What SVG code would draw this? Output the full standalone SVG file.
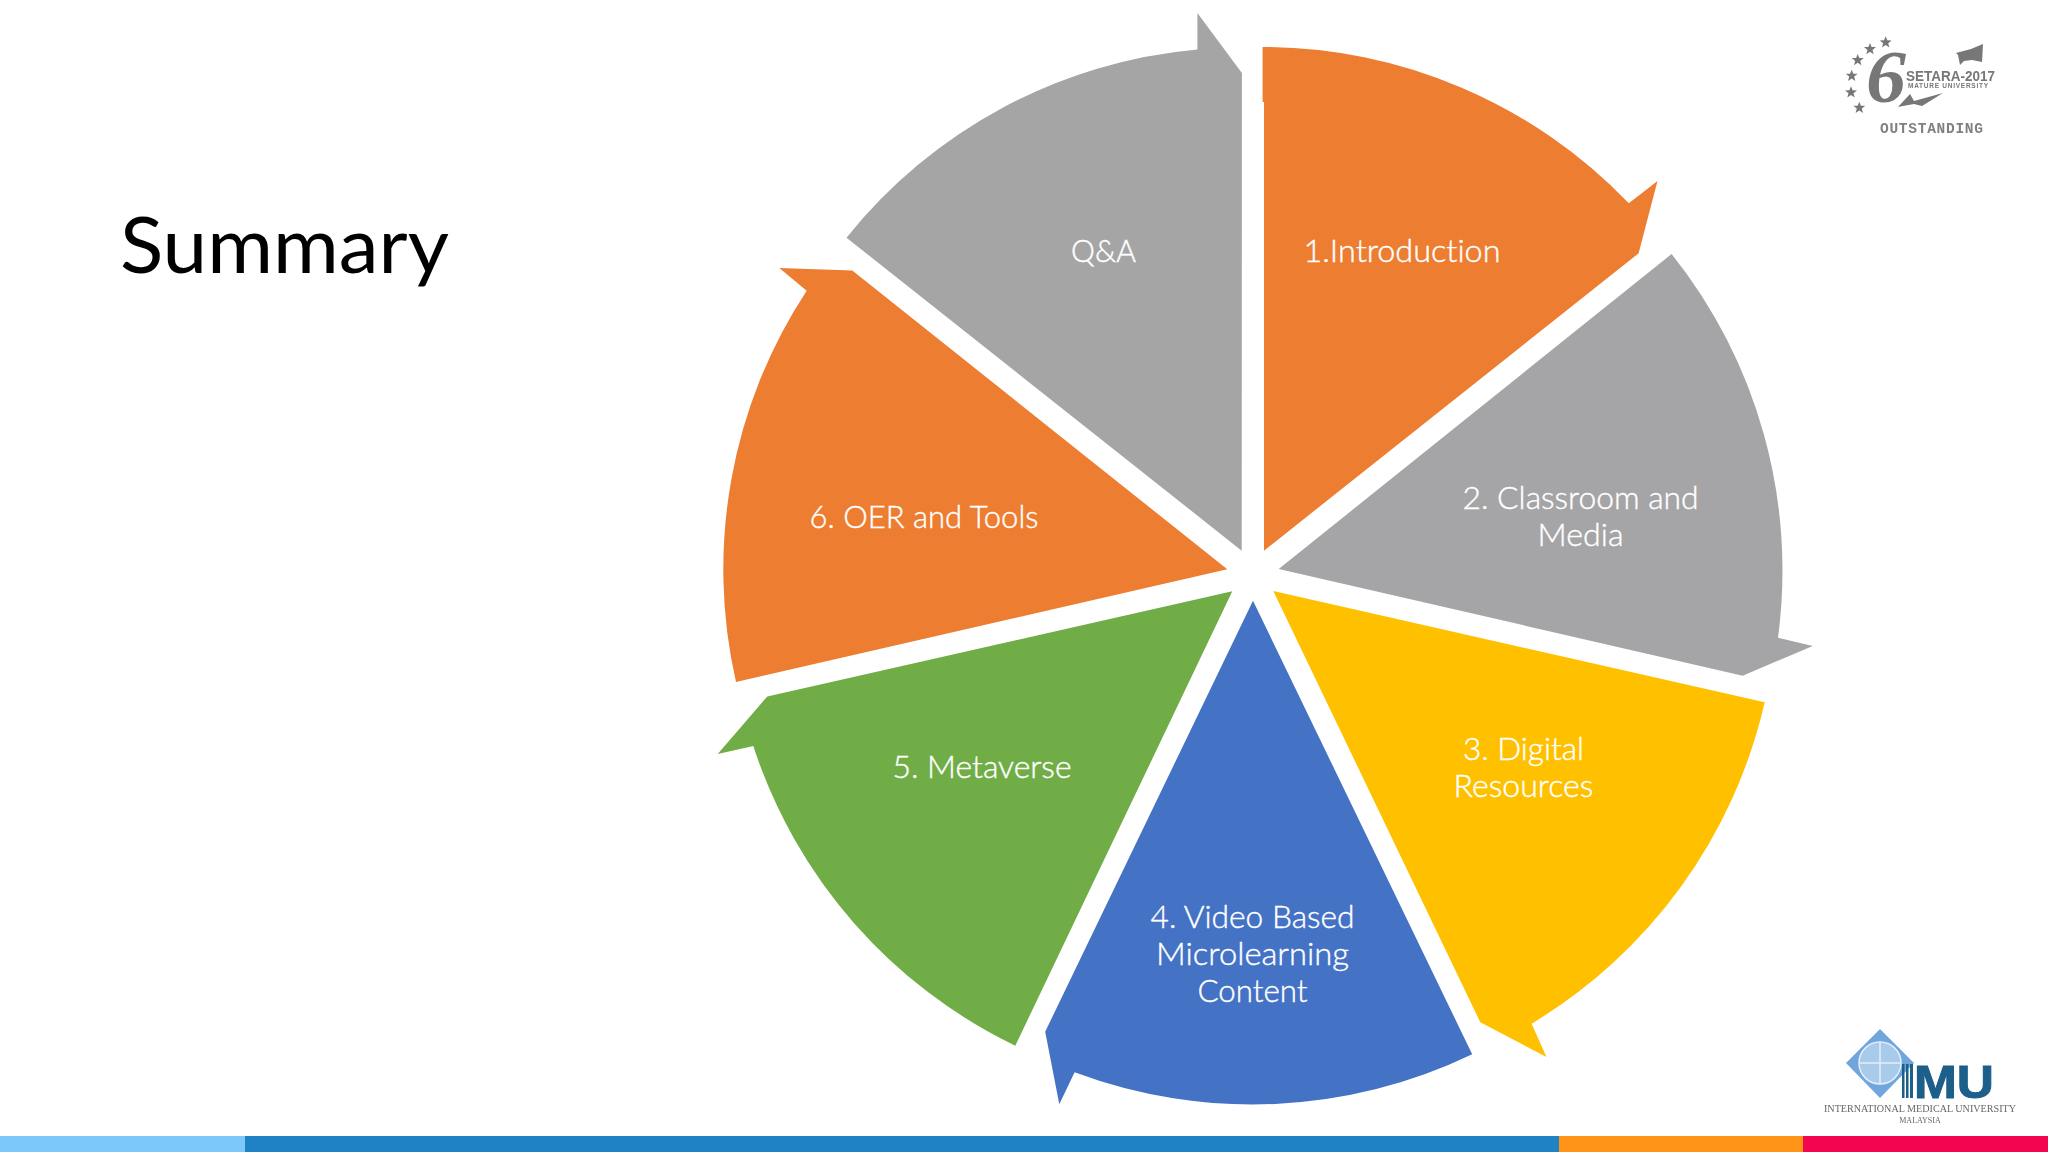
<svg xmlns="http://www.w3.org/2000/svg" width="2048" height="1152" viewBox="0 0 2048 1152">
<style>
.t{font-family:"Lato","Open Sans",sans-serif;font-size:31px;font-weight:300;fill:#fff;stroke:#fff;stroke-width:0.4;text-anchor:middle;font-variant-ligatures:none}
.lg{fill:#777}
</style>
<defs>
<polygon id="star" points="0,-6 1.6,-2 6,-1.9 2.5,0.9 3.7,5.2 0,2.8 -3.7,5.2 -2.5,0.9 -6,-1.9 -1.6,-2" fill="#777"/>
<filter id="soft" x="-5%" y="-5%" width="110%" height="110%"><feGaussianBlur stdDeviation="0.5"/></filter>
</defs>
<rect width="2048" height="1152" fill="#fff"/>
<text x="120" y="273" font-family="Lato, 'Open Sans', sans-serif" font-size="78" fill="#000" textLength="329" lengthAdjust="spacingAndGlyphs" style="font-variant-ligatures:none">Summary</text>
<g id="seg1"><path fill="#ED7D31" d="M1262.6 47A507 507 0 0 1 1628.8 203.3L1657.5 181L1638.6 253.3L1264 550.7L1264 102L1262.6 102Z"/><text class="t" x="1402" y="262" textLength="197" lengthAdjust="spacingAndGlyphs">1.Introduction</text></g>
<g id="seg2"><path fill="#A5A4A6" d="M1671.6 254A507 507 0 0 1 1778 637.7L1812.7 646L1742.7 675.7L1278.7 569Z"/><text class="t" x="1580.6" y="509" textLength="236" lengthAdjust="spacingAndGlyphs">2. Classroom and</text><text class="t" x="1580.6" y="546" textLength="86" lengthAdjust="spacingAndGlyphs">Media</text></g>
<g id="seg3"><path fill="#FFC000" d="M1273.3 591L1764.7 702.3A507 507 0 0 1 1531.6 1023.7L1546.5 1057L1480.3 1022.3Z"/><text class="t" x="1523.5" y="760" textLength="121" lengthAdjust="spacingAndGlyphs">3. Digital</text><text class="t" x="1523.5" y="797" textLength="140" lengthAdjust="spacingAndGlyphs">Resources</text></g>
<g id="seg4"><path fill="#4472C4" d="M1253 600.7L1472.2 1054.3A507 507 0 0 1 1074.6 1072.3L1059.3 1104.3L1045.2 1031.7Z"/><text class="t" x="1252.5" y="928" textLength="204" lengthAdjust="spacingAndGlyphs">4. Video Based</text><text class="t" x="1252.5" y="965" textLength="193" lengthAdjust="spacingAndGlyphs">Microlearning</text><text class="t" x="1252.5" y="1002" textLength="110" lengthAdjust="spacingAndGlyphs">Content</text></g>
<g id="seg5"><path fill="#70AD47" d="M1232.3 591.3L767.3 696.4L717.7 753.9L753.3 746A507 507 0 0 0 1015.3 1045.7Z"/><text class="t" x="982" y="778" textLength="179" lengthAdjust="spacingAndGlyphs">5. Metaverse</text></g>
<g id="seg6"><path fill="#ED7D31" d="M1227.3 569.3L736 682A507 507 0 0 1 806.7 290.7L779.3 268L852.3 270.4Z"/><text class="t" x="924" y="527.6" textLength="229" lengthAdjust="spacingAndGlyphs">6. OER and Tools</text></g>
<g id="seg7"><path fill="#A5A5A5" d="M1241.7 550.7L846.5 237.7A507 507 0 0 1 1197.4 49.5L1197.4 13L1241.9 73Z"/><text class="t" x="1103.6" y="262" textLength="65" lengthAdjust="spacingAndGlyphs">Q&amp;A</text></g>
<g id="logo-setara" filter="url(#soft)">
<use href="#star" x="1885.7" y="42.3"/><use href="#star" x="1870" y="49"/><use href="#star" x="1857.7" y="60"/><use href="#star" x="1851.7" y="75.7"/><use href="#star" x="1851" y="92.3"/><use href="#star" x="1859.3" y="107.7"/>
<text x="1866" y="102" font-family="Liberation Serif, serif" font-style="italic" font-weight="bold" font-size="74" class="lg" textLength="40" lengthAdjust="spacingAndGlyphs">6</text>
<text x="1906" y="81" font-family="Liberation Sans, sans-serif" font-weight="bold" font-size="15" class="lg" textLength="89" lengthAdjust="spacingAndGlyphs">SETARA-2017</text>
<text x="1908" y="88" font-family="Liberation Sans, sans-serif" font-weight="bold" font-size="6.5" class="lg" textLength="80">MATURE UNIVERSITY</text>
<polygon class="lg" points="1983,44 1982,62 1972,60 1964,61 1960,65 1958,55 1956,53 1971,49"/>
<polygon class="lg" points="1898,107 1910,94 1914,101 1943,93 1922,106 1914,104 1903,106"/>
<text x="1880" y="133" font-family="Liberation Mono, monospace" font-weight="bold" font-size="14.5" fill="#808080" textLength="103">OUTSTANDING</text>
</g>
<g id="logo-imu" filter="url(#soft)">
<polygon points="1846,1063 1880,1029 1914,1063 1880,1098" fill="#6FA6DC"/>
<circle cx="1880" cy="1063" r="21" fill="#A9CBEB" stroke="#E3EEF8" stroke-width="1.5"/>
<path d="M1859 1063H1901M1880 1042V1084" stroke="#E3EEF8" stroke-width="1.5" fill="none"/>
<rect x="1902" y="1064" width="2.5" height="34" fill="#1B5E8A"/><rect x="1906" y="1064" width="2.5" height="34" fill="#1B5E8A"/><rect x="1910" y="1064" width="3" height="34" fill="#1B5E8A"/>
<text x="1914" y="1098" font-family="Liberation Sans, sans-serif" font-weight="bold" font-size="47" fill="#1B5E8A" stroke="#1B5E8A" stroke-width="1" textLength="80" lengthAdjust="spacingAndGlyphs">MU</text>
<text x="1824" y="1112" font-family="Liberation Serif, serif" font-size="9.5" fill="#666" textLength="192" lengthAdjust="spacingAndGlyphs">INTERNATIONAL MEDICAL UNIVERSITY</text>
<text x="1920" y="1123" font-family="Liberation Serif, serif" font-size="8" fill="#666" text-anchor="middle">MALAYSIA</text>
</g>
<g id="bar">
<rect x="0" y="1136" width="245" height="16" fill="#7CC8FB"/>
<rect x="245" y="1136" width="1314" height="16" fill="#1F82C4"/>
<rect x="1559" y="1136" width="244" height="16" fill="#FF9419"/>
<rect x="1803" y="1136" width="245" height="16" fill="#F2064F"/>
</g>
</svg>
